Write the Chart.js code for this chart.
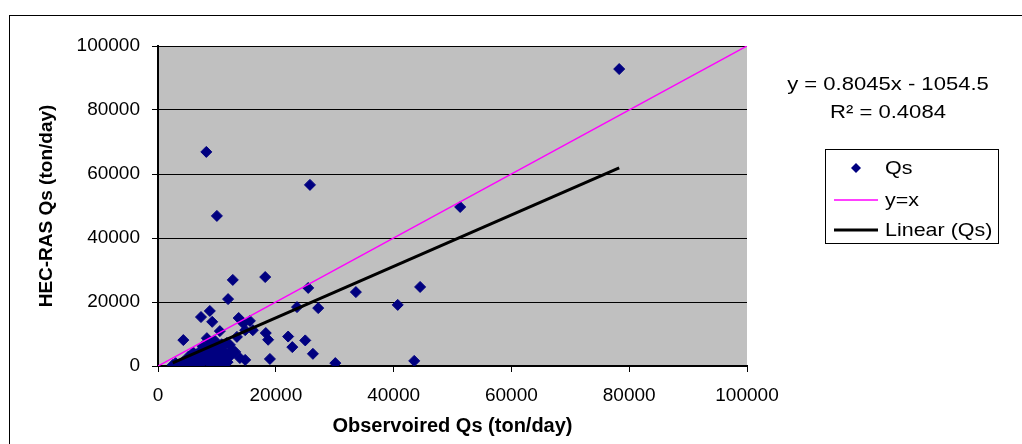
<!DOCTYPE html>
<html>
<head>
<meta charset="utf-8">
<script src="https://cdn.jsdelivr.net/npm/chart.js@4/dist/chart.umd.min.js"></script>
<style>
  body { margin: 0; background: #fff; }
  canvas { display: block; }
</style>
</head>
<body>
<canvas id="qsChart" width="1022" height="444"></canvas>
<script>
const observedQs = [
  78300, 8200, 10000, 25800, 51300, 44500, 33600, 25500, 40700, 27200,
  18200, 12700, 23600, 43500, 30100, 26300, 25000, 22100, 22800, 19000,
  18700, 18300, 11900, 8800, 7300, 9200, 13700, 14500, 15600, 16100,
  10500, 4300, 13400, 14800, 12200, 13100, 13900, 14800, 11700, 8300,
  2500, 3000, 3300, 3800, 4200, 4500, 5000, 5500, 5800, 6200,
  6500, 6800, 7000, 7200, 7500, 7800, 8000, 8300, 8500, 8800,
  9000, 9200, 9500, 9800, 10000, 10300, 10600, 10900, 11200, 11500,
  11800, 12200, 12600, 9600, 10800, 7600, 6000, 5200
];
const hecrasQs = [
  92800, 66900, 46900, 56600, 49700, 24700, 23100, 24400, 19100, 18100,
  27800, 26900, 18400, 1600, 900, 3800, 8000, 9200, 5900, 2200,
  8200, 10300, 20900, 17200, 15300, 13800, 15000, 13300, 14100, 11200,
  10900, 8100, 9100, 11200, 6600, 4400, 2500, 1900, 7200, 8700,
  300, 900, 200, 600, 1200, 400, 1800, 700, 2600, 1400,
  3500, 500, 2200, 4800, 1000, 3000, 5600, 1800, 3900, 6400,
  600, 2700, 4500, 7200, 1500, 3400, 5600, 800, 2400, 4100,
  1200, 3000, 5000, 8000, 6800, 6200, 4200, 3000
];
const tickValues = [0, 20000, 40000, 60000, 80000, 100000];
const slope = 0.8045;
const intercept = -1054.5;
const r2 = 0.4084;

const qsPoints = observedQs.map((x, i) => ({ x: x, y: hecrasQs[i] }));
const xMin = Math.min(...observedQs);
const xMax = Math.max(...observedQs);
const trendPoints = [xMin, xMax].map(x => ({ x: x, y: slope * x + intercept }));
const identityPoints = [0, 100000].map(v => ({ x: v, y: v }));

const FONT = '"Liberation Sans", Arial, sans-serif';

// the original text is a bit wider than Arial, so stretch it horizontally
function wideText(ctx, text, x, y, sx, align) {
  ctx.save();
  ctx.translate(x, y);
  ctx.scale(sx, 1);
  ctx.textAlign = align;
  ctx.fillText(text, 0, 0);
  ctx.restore();
}

// gray plot background + outer frame
const backdrop = {
  id: 'backdrop',
  beforeDraw(chart) {
    const { ctx, chartArea: a } = chart;
    ctx.save();
    ctx.fillStyle = '#c0c0c0';
    ctx.fillRect(a.left, a.top, a.right - a.left, a.bottom - a.top);
    ctx.strokeStyle = '#000';
    ctx.lineWidth = 1;
    ctx.strokeRect(9.5, 15.5, 1100, 500);
    ctx.restore();
  }
};

// equation text and the boxed legend on the right
const sideText = {
  id: 'sideText',
  afterDraw(chart) {
    const ctx = chart.ctx;
    ctx.save();
    ctx.fillStyle = '#000';
    ctx.font = '19px ' + FONT;
    ctx.textBaseline = 'middle';
    const sign = intercept < 0 ? ' - ' : ' + ';
    wideText(ctx, 'y = ' + slope + 'x' + sign + Math.abs(intercept), 888, 85, 1.16, 'center');
    wideText(ctx, 'R\u00b2 = ' + r2, 888, 113, 1.16, 'center');

    ctx.strokeStyle = '#000';
    ctx.lineWidth = 1;
    ctx.strokeRect(825.5, 149.5, 173, 94);

    chart.data.datasets.forEach((ds, i) => {
      const y = [168, 200, 230][i];
      if (ds.showLine) {
        ctx.beginPath();
        ctx.strokeStyle = ds.borderColor;
        ctx.lineWidth = ds.borderWidth;
        ctx.moveTo(834, y);
        ctx.lineTo(878, y);
        ctx.stroke();
      } else {
        ctx.beginPath();
        ctx.fillStyle = ds.backgroundColor;
        ctx.moveTo(856, y - 5);
        ctx.lineTo(861, y);
        ctx.lineTo(856, y + 5);
        ctx.lineTo(851, y);
        ctx.closePath();
        ctx.fill();
      }
      ctx.fillStyle = '#000';
      wideText(ctx, ds.label, 885, y + 1, 1.13, 'left');
    });
    ctx.restore();
  }
};

new Chart(document.getElementById('qsChart'), {
  type: 'scatter',
  data: {
    datasets: [
      {
        label: 'Qs',
        data: qsPoints,
        pointStyle: 'rectRot',
        pointRadius: 5.5,
        backgroundColor: '#000080',
        borderColor: '#000080',
        borderWidth: 1,
        order: 3
      },
      {
        label: 'y=x',
        data: identityPoints,
        showLine: true,
        borderColor: '#ff00ff',
        borderWidth: 1.5,
        pointRadius: 0,
        order: 2
      },
      {
        label: 'Linear (Qs)',
        data: trendPoints,
        showLine: true,
        borderColor: '#000',
        borderWidth: 3,
        pointRadius: 0,
        order: 1
      }
    ]
  },
  options: {
    responsive: false,
    animation: false,
    devicePixelRatio: 1,
    layout: { padding: { top: 46, right: 275, left: 0, bottom: 0 } },
    plugins: {
      legend: { display: false },
      tooltip: { enabled: false }
    },
    scales: {
      x: {
        type: 'linear',
        min: 0,
        max: 100000,
        afterBuildTicks: s => { s.ticks = tickValues.map(v => ({ value: v })); },
        afterFit: s => { s.height = 78; },
        ticks: {
          color: '#000',
          padding: 12,
          maxRotation: 0,
          font: { family: FONT, size: 19 },
          callback: v => String(v)
        },
        grid: { drawOnChartArea: false, tickLength: 6, tickColor: '#000', tickWidth: 1 },
        border: { color: '#000', width: 2 },
        title: {
          display: true,
          text: 'Observoired Qs (ton/day)',
          color: '#000',
          font: { family: FONT, size: 20, weight: 'bold' },
          padding: { top: 0, bottom: 6 }
        }
      },
      y: {
        type: 'linear',
        min: 0,
        max: 100000,
        afterBuildTicks: s => { s.ticks = tickValues.map(v => ({ value: v })); },
        afterFit: s => { s.width = 158; },
        ticks: {
          color: '#000',
          padding: 12,
          font: { family: FONT, size: 19 },
          callback: v => String(v)
        },
        grid: { color: '#000', lineWidth: 1, tickLength: 6, tickColor: '#000' },
        border: { color: '#000', width: 2 },
        title: {
          display: true,
          text: 'HEC-RAS Qs (ton/day)',
          color: '#000',
          font: { family: FONT, size: 19, weight: 'bold' },
          padding: { top: 35, bottom: 0 }
        }
      }
    }
  },
  plugins: [backdrop, sideText]
});
</script>
</body>
</html>
